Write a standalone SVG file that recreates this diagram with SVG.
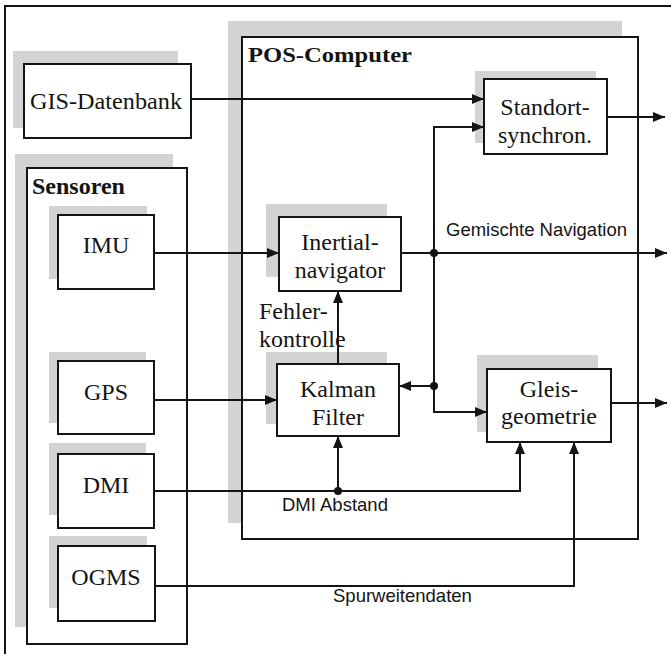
<svg xmlns="http://www.w3.org/2000/svg" width="671" height="654" viewBox="0 0 671 654">
  <style>
    .shadow { fill: #d3d3d3; }
    .box { fill: #ffffff; stroke: #141414; stroke-width: 2; }
    .lbl { font-family: "Liberation Serif", "Times New Roman", serif; font-size: 24px; fill: #141414; text-anchor: middle; }
    .title { font-family: "Liberation Serif", "Times New Roman", serif; font-weight: bold; fill: #141414; }
    .note { font-family: "Liberation Sans", Arial, sans-serif; font-size: 18.5px; fill: #141414; }
    .serifnote { font-family: "Liberation Serif", "Times New Roman", serif; font-size: 24px; fill: #141414; }
    .wire { fill: none; stroke: #141414; stroke-width: 2; }
    .dot { fill: #141414; }
  </style>
  <defs>
    <marker id="arrow" markerUnits="userSpaceOnUse" markerWidth="12" markerHeight="10" refX="12" refY="5" orient="auto">
      <path d="M0,0 L12,5 L0,10 z" fill="#141414"/>
    </marker>
  </defs>

  <rect width="671" height="654" fill="#ffffff"/>
  <!-- outer frame -->
  <path d="M5,654 V6 H671" class="wire"/>

  <g id="gis">
    <rect class="shadow" x="13" y="51" width="165" height="77"/>
    <rect class="box" x="24" y="64" width="167" height="74"/>
    <text class="lbl" x="106" y="109" textLength="152" lengthAdjust="spacingAndGlyphs">GIS-Datenbank</text>
  </g>

  <g id="sensoren">
    <rect class="shadow" x="15" y="154" width="158" height="473"/>
    <rect class="box" x="27" y="168" width="160" height="476"/>
    <text class="title" x="32" y="194" font-size="24">Sensoren</text>
  </g>

  <g id="pos-computer">
    <rect class="shadow" x="228" y="21" width="394" height="502"/>
    <rect class="box" x="242" y="37" width="396" height="502"/>
    <text class="title" x="248" y="62" font-size="22" textLength="164" lengthAdjust="spacingAndGlyphs">POS-Computer</text>
  </g>

  <g id="imu">
    <rect class="shadow" x="49" y="206" width="98" height="73"/>
    <rect class="box" x="58" y="215" width="96" height="74"/>
    <text class="lbl" x="106" y="253">IMU</text>
  </g>

  <g id="gps">
    <rect class="shadow" x="49" y="352" width="97" height="71"/>
    <rect class="box" x="58" y="361" width="96" height="73"/>
    <text class="lbl" x="106" y="400">GPS</text>
  </g>

  <g id="dmi">
    <rect class="shadow" x="49" y="443" width="97" height="72"/>
    <rect class="box" x="58" y="454" width="96" height="74"/>
    <text class="lbl" x="106" y="493">DMI</text>
  </g>

  <g id="ogms">
    <rect class="shadow" x="49" y="536" width="98" height="72"/>
    <rect class="box" x="58" y="546" width="97" height="75"/>
    <text class="lbl" x="106" y="585">OGMS</text>
  </g>

  <g id="standort">
    <rect class="shadow" x="475" y="71" width="121" height="72"/>
    <rect class="box" x="484" y="79" width="123" height="75"/>
    <text class="lbl" x="545" y="115">Standort-</text>
    <text class="lbl" x="545" y="143">synchron.</text>
  </g>

  <g id="inertial">
    <rect class="shadow" x="266" y="204" width="121" height="73"/>
    <rect class="box" x="279" y="217" width="122" height="74"/>
    <text class="lbl" x="340" y="250">Inertial-</text>
    <text class="lbl" x="340" y="278">navigator</text>
  </g>

  <g id="kalman">
    <rect class="shadow" x="266" y="352" width="121" height="72"/>
    <rect class="box" x="277" y="364" width="122" height="72"/>
    <text class="lbl" x="338" y="397">Kalman</text>
    <text class="lbl" x="338" y="425">Filter</text>
  </g>

  <g id="gleis">
    <rect class="shadow" x="477" y="355" width="121" height="77"/>
    <rect class="box" x="487" y="369" width="124" height="73"/>
    <text class="lbl" x="549" y="397">Gleis-</text>
    <text class="lbl" x="549" y="424">geometrie</text>
  </g>

  <g id="connectors">
    <path class="wire" d="M191,99 H484" marker-end="url(#arrow)"/>
    <path class="wire" d="M434,253 V127 H484" marker-end="url(#arrow)"/>
    <path class="wire" d="M434,253 V412 H487" marker-end="url(#arrow)"/>
    <path class="wire" d="M434,386 H399" marker-end="url(#arrow)"/>
    <path class="wire" d="M154,253 H279" marker-end="url(#arrow)"/>
    <path class="wire" d="M401,253 H667" marker-end="url(#arrow)"/>
    <path class="wire" d="M154,400 H277" marker-end="url(#arrow)"/>
    <path class="wire" d="M338,364 V291" marker-end="url(#arrow)"/>
    <path class="wire" d="M154,491 H520 V442" marker-end="url(#arrow)"/>
    <path class="wire" d="M338,491 V436" marker-end="url(#arrow)"/>
    <path class="wire" d="M155,586 H574 V442" marker-end="url(#arrow)"/>
    <path class="wire" d="M607,117 H665" marker-end="url(#arrow)"/>
    <path class="wire" d="M611,403 H667" marker-end="url(#arrow)"/>
    <circle class="dot" cx="434" cy="253" r="4"/>
    <circle class="dot" cx="434" cy="386" r="4"/>
    <circle class="dot" cx="338" cy="491" r="4"/>
    <text class="note" x="446" y="236">Gemischte Navigation</text>
    <text class="serifnote" x="259" y="319">Fehler-</text>
    <text class="serifnote" x="259" y="347">kontrolle</text>
    <text class="note" x="282" y="511" font-size="20">DMI Abstand</text>
    <text class="note" x="333" y="602">Spurweitendaten</text>
  </g>
</svg>
